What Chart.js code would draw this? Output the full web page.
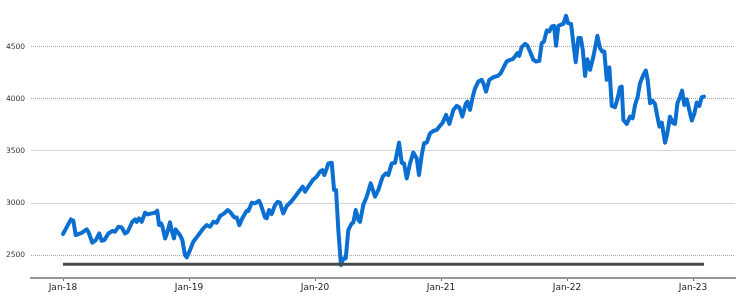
<!DOCTYPE html>
<html>
<head>
<meta charset="utf-8">
<script src="https://cdn.jsdelivr.net/npm/chart.js@4/dist/chart.umd.min.js"></script>
<style>
  body { margin: 0; background: #fff; }
  canvas { display: block; }
</style>
</head>
<body>
<canvas id="indexChart" width="740" height="296"></canvas>
<script>
// time of each point, as decimal years
const when = [
  2018.000, 2018.063, 2018.082, 2018.101, 2018.148, 2018.188, 2018.201, 2018.233, 2018.260, 2018.288,
  2018.307, 2018.328, 2018.360, 2018.391, 2018.413, 2018.439, 2018.466, 2018.492, 2018.513, 2018.550,
  2018.571, 2018.585, 2018.603, 2018.625, 2018.651, 2018.672, 2018.704, 2018.730, 2018.748, 2018.762,
  2018.778, 2018.788, 2018.810, 2018.825, 2018.849, 2018.863, 2018.881, 2018.894, 2018.929, 2018.947,
  2018.968, 2018.982, 2019.008, 2019.034, 2019.074, 2019.113, 2019.140, 2019.167, 2019.193, 2019.220,
  2019.246, 2019.280, 2019.307, 2019.325, 2019.360, 2019.379, 2019.399, 2019.423, 2019.458, 2019.471,
  2019.498, 2019.524, 2019.556, 2019.571, 2019.603, 2019.617, 2019.635, 2019.656, 2019.683, 2019.704,
  2019.722, 2019.748, 2019.775, 2019.810, 2019.841, 2019.881, 2019.902, 2019.921, 2019.947, 2019.982,
  2020.013, 2020.040, 2020.058, 2020.074, 2020.093, 2020.106, 2020.133, 2020.151, 2020.167, 2020.185,
  2020.206, 2020.225, 2020.244, 2020.264, 2020.291, 2020.304, 2020.323, 2020.344, 2020.357, 2020.383,
  2020.410, 2020.442, 2020.476, 2020.502, 2020.537, 2020.563, 2020.582, 2020.609, 2020.635, 2020.667,
  2020.688, 2020.706, 2020.728, 2020.754, 2020.780, 2020.807, 2020.825, 2020.847, 2020.865, 2020.887,
  2020.913, 2020.939, 2020.966, 2020.987, 2021.013, 2021.040, 2021.066, 2021.098, 2021.125, 2021.145,
  2021.169, 2021.196, 2021.209, 2021.230, 2021.252, 2021.270, 2021.296, 2021.323, 2021.336, 2021.357,
  2021.383, 2021.415, 2021.450, 2021.474, 2021.500, 2021.521, 2021.548, 2021.569, 2021.587, 2021.606,
  2021.621, 2021.640, 2021.667, 2021.685, 2021.706, 2021.733, 2021.754, 2021.780, 2021.799, 2021.817,
  2021.839, 2021.860, 2021.879, 2021.897, 2021.913, 2021.931, 2021.958, 2021.971, 2021.992, 2022.008,
  2022.032, 2022.050, 2022.069, 2022.090, 2022.109, 2022.125, 2022.143, 2022.161, 2022.183, 2022.209,
  2022.241, 2022.262, 2022.280, 2022.296, 2022.315, 2022.336, 2022.355, 2022.381, 2022.402, 2022.421,
  2022.434, 2022.447, 2022.474, 2022.500, 2022.521, 2022.540, 2022.561, 2022.579, 2022.606, 2022.625,
  2022.640, 2022.659, 2022.680, 2022.698, 2022.712, 2022.733, 2022.752, 2022.778, 2022.796, 2022.817,
  2022.839, 2022.857, 2022.876, 2022.897, 2022.913, 2022.931, 2022.950, 2022.970, 2022.990, 2023.010,
  2023.029, 2023.050, 2023.069, 2023.087
];

const values = [
  2702, 2843, 2830, 2692, 2714, 2747, 2724, 2618, 2644, 2708,
  2637, 2644, 2708, 2731, 2724, 2772, 2766, 2708, 2724, 2820,
  2843, 2820, 2853, 2820, 2907, 2891, 2901, 2907, 2926, 2788,
  2804, 2779, 2660, 2708, 2814, 2734, 2660, 2747, 2692, 2644,
  2500, 2478, 2548, 2628, 2692, 2756, 2788, 2772, 2820, 2811,
  2875, 2901, 2933, 2916, 2862, 2862, 2788, 2853, 2926, 2923,
  3003, 2997, 3022, 2981, 2862, 2853, 2933, 2894, 2981, 3012,
  3003, 2901, 2971, 3012, 3061, 3125, 3157, 3109, 3157, 3221,
  3253, 3301, 3317, 3269, 3333, 3381, 3387, 3125, 3125, 2740,
  2404, 2468, 2468, 2740, 2805, 2811, 2933, 2837, 2820, 2981,
  3061, 3189, 3061, 3125, 3253, 3285, 3269, 3381, 3387, 3580,
  3387, 3381, 3237, 3381, 3484, 3430, 3269, 3462, 3574, 3580,
  3670, 3692, 3702, 3734, 3772, 3846, 3760, 3894, 3933, 3920,
  3830, 3952, 3974, 3894, 4022, 4102, 4166, 4183, 4151, 4070,
  4183, 4208, 4221, 4247, 4311, 4359, 4375, 4382, 4407, 4439,
  4414, 4497, 4529, 4513, 4455, 4375, 4359, 4365, 4535, 4551,
  4657, 4648, 4696, 4702, 4510, 4702, 4715, 4721, 4798, 4728,
  4721, 4535, 4353, 4584, 4584, 4471, 4221, 4382, 4279, 4407,
  4606, 4487, 4455, 4455, 4183, 4301, 3933, 3920, 4007, 4112,
  4118, 3798, 3760, 3830, 3814, 3942, 4022, 4151, 4231, 4273,
  4183, 3958, 3981, 3952, 3862, 3734, 3772, 3580, 3670, 3830,
  3772, 3760, 3958, 4022, 4080, 3942, 3997, 3894, 3792, 3856,
  3965, 3933, 4016, 4022
];

// flat reference level drawn under the index line
const baseLevel = 2413;

const tickYears = [2018, 2019, 2020, 2021, 2022, 2023];
const tickLabels = ['Jan-18', 'Jan-19', 'Jan-20', 'Jan-21', 'Jan-22', 'Jan-23'];
const yTicks = [2500, 3000, 3500, 4000, 4500];

const linePoints = when.map((t, i) => ({ x: t, y: values[i] }));
const basePoints = [
  { x: when[0], y: baseLevel },
  { x: when[when.length - 1], y: baseLevel }
];

// gridlines at 3000 and 3500 are solid and paler, the rest dotted
const isSolidGrid = (c) => c.tick && (c.tick.value === 3000 || c.tick.value === 3500);

const ctx = document.getElementById('indexChart').getContext('2d');

new Chart(ctx, {
  type: 'line',
  data: {
    datasets: [
      {
        data: basePoints,
        borderColor: '#4a4a4a',
        borderWidth: 3,
        pointRadius: 0,
        tension: 0
      },
      {
        data: linePoints,
        borderColor: '#0a6fd0',
        borderWidth: 4,
        pointRadius: 0,
        tension: 0,
        borderJoinStyle: 'round',
        borderCapStyle: 'round'
      }
    ]
  },
  options: {
    responsive: false,
    animation: false,
    layout: { padding: { left: 0, top: 0, right: 5, bottom: 0 } },
    plugins: {
      legend: { display: false },
      tooltip: { enabled: false }
    },
    scales: {
      x: {
        type: 'linear',
        min: 2017.746,
        max: 2023.333,
        afterBuildTicks: (axis) => {
          axis.ticks = tickYears.map(v => ({ value: v }));
        },
        afterFit: (axis) => {
          axis.height = 18;
          axis.paddingLeft = 0;
          axis.paddingRight = 0;
        },
        ticks: {
          autoSkip: false,
          maxRotation: 0,
          padding: 1,
          color: '#222',
          font: { family: 'DejaVu Sans', size: 9 },
          callback: (value) => {
            const i = tickYears.indexOf(value);
            return i >= 0 ? tickLabels[i] : '';
          }
        },
        grid: {
          drawOnChartArea: false,
          drawTicks: true,
          tickLength: 3,
          color: '#666'
        },
        border: { display: true, color: '#999', width: 2 }
      },
      y: {
        min: 2280,
        max: 4950,
        afterBuildTicks: (axis) => {
          axis.ticks = yTicks.map(v => ({ value: v }));
        },
        afterFit: (axis) => {
          axis.width = 31;
          axis.paddingTop = 0;
          axis.paddingBottom = 0;
        },
        ticks: {
          padding: 6,
          color: '#333',
          font: { family: 'DejaVu Sans', size: 7.5 },
          callback: (value) => String(value)
        },
        grid: {
          drawTicks: false,
          color: (c) => isSolidGrid(c) ? '#d4d4d4' : '#a8a8a0',
          lineWidth: 1
        },
        border: {
          display: false,
          dash: (c) => isSolidGrid(c) ? [] : [1, 1]
        }
      }
    }
  }
});
</script>
</body>
</html>
